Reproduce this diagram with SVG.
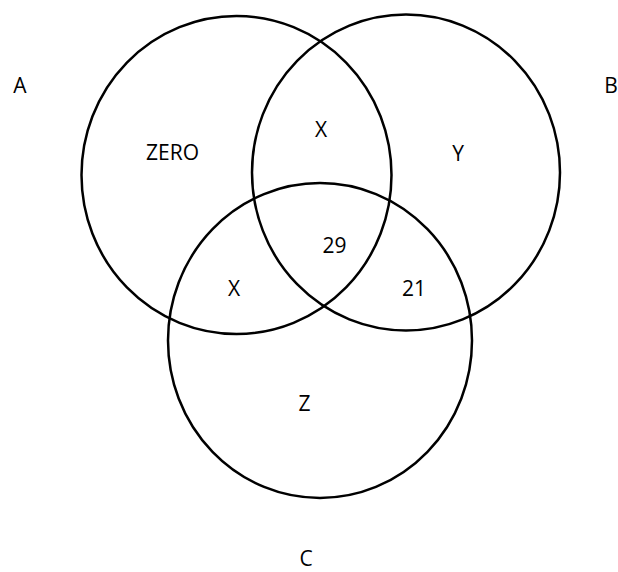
<svg xmlns="http://www.w3.org/2000/svg" width="618" height="572" viewBox="0 0 618 572">
<style>
.c{fill:none;stroke:#000;stroke-width:2.5}
.t{font-family:"Open Sans","Liberation Sans",sans-serif;font-size:21px;fill:#000;text-anchor:middle}
</style>
<rect width="618" height="572" fill="#fff"/>
<g id="setA"><ellipse class="c" cx="236.5" cy="175" rx="155" ry="159"/></g>
<g id="setB"><ellipse class="c" cx="406" cy="172.5" rx="154" ry="158"/></g>
<g id="setC"><ellipse class="c" cx="320" cy="340.5" rx="152" ry="157.5"/></g>
<g id="labels">
<text class="t" x="20" y="93">A</text>
<text class="t" x="611" y="93">B</text>
<text class="t" x="306" y="566">C</text>
<text class="t" x="172.5" y="160">ZERO</text>
<text class="t" x="321" y="137">X</text>
<text class="t" x="458" y="161">Y</text>
<text class="t" x="334.5" y="253">29</text>
<text class="t" x="234" y="296">X</text>
<text class="t" x="414" y="296">21</text>
<text class="t" x="304.5" y="411">Z</text>
</g>
</svg>
